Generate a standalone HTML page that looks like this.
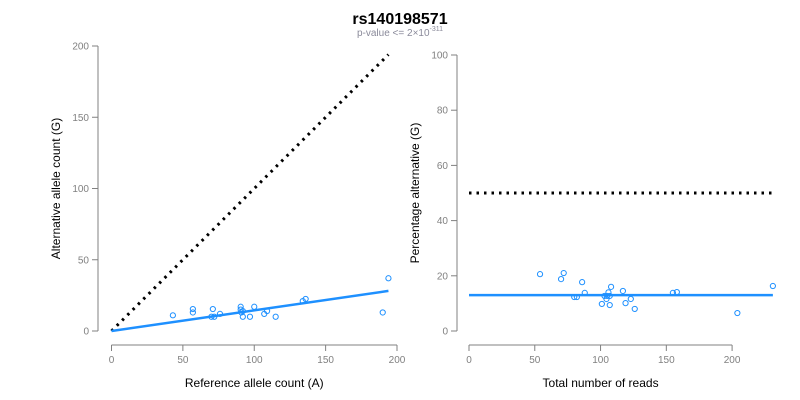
<!DOCTYPE html>
<html><head><meta charset="utf-8"><style>
body{margin:0;background:#fff;}
svg{display:block;font-family:"Liberation Sans",Arial,sans-serif;}
</style></head><body>
<svg id="c" width="800" height="400">
<text x="400" y="24" text-anchor="middle" font-size="16" font-weight="bold">rs140198571</text>
<text x="400" y="36" text-anchor="middle" font-size="10" fill="#8a8a9a">p-value &lt;= 2×10<tspan dy="-5" font-size="7">-311</tspan></text>
</svg>
<script>
const refCounts=[43,57,57,71,70,72,76,90.5,90.5,92,91,92,97,100,107,109,115,134,136,190,194];
const altCounts=[11,15.4,13,15.4,10,10,12,17,15,14,13,10,10,17,12,14,10,21,22.5,13,37];
const leftSlope=0.145;
const totalReads=[54,72,70,86,88,80,82,108,106,117,103,105,107,104.5,101,107,119,123,126,155,158,204,231];
const pctAlt=[20.6,21,18.8,17.7,13.8,12.3,12.3,16,14,14.5,12.7,12.7,12.7,11.6,9.8,9.4,10.1,11.6,8,13.8,14.1,6.5,16.3];
const rightMean=13;
const leftXTicks=[0,50,100,150,200];
const leftYTicks=[0,50,100,150,200];
const rightXTicks=[0,50,100,150,200];
const rightYTicks=[0,20,40,60,80,100];

const svg=document.getElementById('c');
const NS='http://www.w3.org/2000/svg';
function mk(t,a,p){const e=document.createElementNS(NS,t);for(const k in a)e.setAttribute(k,a[k]);(p||svg).appendChild(e);return e;}
const lx=v=>111.5+v*1.4275, ly=v=>331-v*1.425;
const rx=v=>469+v*1.3155, ry=v=>331-v*2.76;
const grey='#808080', blue='#1e90ff';

function axes(xs,ys,X,Y,axX,axY,xlab,ylab,pre){
  let g=mk('g',{});
  
  
  mk('line',{x1:X(xs[0]),x2:X(xs[xs.length-1]),y1:axY,y2:axY,stroke:grey},g);
  xs.forEach(v=>{mk('line',{x1:X(v),x2:X(v),y1:axY,y2:axY+6,stroke:grey},g);
    const t=mk('text',{x:X(v),y:axY+18,'text-anchor':'middle','font-size':10,fill:grey},g);t.textContent=v;
    
    });
  mk('line',{x1:axX,x2:axX,y1:Y(ys[0]),y2:Y(ys[ys.length-1]),stroke:grey},g);
  ys.forEach(v=>{mk('line',{x1:axX,x2:axX-6,y1:Y(v),y2:Y(v),stroke:grey},g);
    const t=mk('text',{x:axX-9,y:Y(v)+3.5,'text-anchor':'end','font-size':10,fill:grey},g);t.textContent=v;
    
    });
  const xl=mk('text',{x:(X(xs[0])+X(xs[xs.length-1]))/2,y:axY+42,'text-anchor':'middle','font-size':12},g);xl.textContent=xlab;
  
  
  const cy=(Y(ys[0])+Y(ys[ys.length-1]))/2;
  const yl=mk('text',{x:axX-38,y:cy,'text-anchor':'middle','font-size':12,transform:`rotate(-90 ${axX-38} ${cy})`},g);yl.textContent=ylab;
  
  
}
axes(leftXTicks,leftYTicks,lx,ly,98,345,'Reference allele count (A)','Alternative allele count (G)','left');
axes(rightXTicks,rightYTicks,rx,ry,457,345,'Total number of reads','Percentage alternative (G)','right');

let maxRef=Math.max(...refCounts);
let d=mk('line',{x1:lx(0),y1:ly(0),x2:lx(maxRef),y2:ly(maxRef),stroke:'#000','stroke-width':3,'stroke-dasharray':'2.5 5'});


let r=mk('line',{x1:lx(0),y1:ly(0),x2:lx(maxRef),y2:ly(maxRef*leftSlope),stroke:blue,'stroke-width':2.5});


refCounts.forEach((v,i)=>{const c=mk('circle',{cx:lx(v),cy:ly(altCounts[i]),r:2.6,fill:'none',stroke:blue,'stroke-width':1});
  
  });

let maxTot=Math.max(...totalReads);
let d2=mk('line',{x1:rx(0),y1:ry(50),x2:rx(maxTot),y2:ry(50),stroke:'#000','stroke-width':3,'stroke-dasharray':'2.5 5'});


let m=mk('line',{x1:rx(0),y1:ry(rightMean),x2:rx(maxTot),y2:ry(rightMean),stroke:blue,'stroke-width':2.5});


totalReads.forEach((v,i)=>{const c=mk('circle',{cx:rx(v),cy:ry(pctAlt[i]),r:2.6,fill:'none',stroke:blue,'stroke-width':1});
  
  });
</script>
</body></html>
